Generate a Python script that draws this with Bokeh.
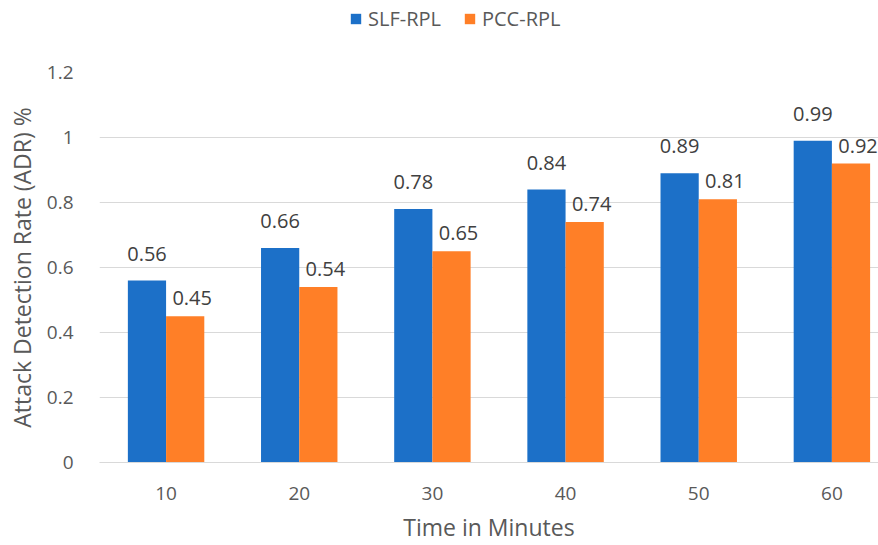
from bokeh.plotting import figure
from bokeh.layouts import column
from bokeh.models import ColumnDataSource, FixedTicker, Legend, LegendItem, Range1d
from bokeh.embed import file_html
from bokeh.resources import INLINE
from bokeh.core.properties import value

categories = ["10", "20", "30", "40", "50", "60"]
slf_rpl = [0.56, 0.66, 0.78, 0.84, 0.89, 0.99]
pcc_rpl = [0.45, 0.54, 0.65, 0.74, 0.81, 0.92]
y_ticks = [0, 0.2, 0.4, 0.6, 0.8, 1.0, 1.2]
y_tick_labels = ["0", "0.2", "0.4", "0.6", "0.8", "1", "1.2"]
series_names = ["SLF-RPL", "PCC-RPL"]

FONT = "Open Sans"
BLUE = "#1C70C8"
ORANGE = "#FF7F27"
GRAY = "#595959"

xs = list(range(1, len(categories) + 1))
bw = 0.287
src_a = ColumnDataSource(dict(x=[v - bw / 2 for v in xs], y=slf_rpl,
                              lbl=[f"{v:g}" for v in slf_rpl]))
src_b = ColumnDataSource(dict(x=[v + bw / 2 for v in xs], y=pcc_rpl,
                              lbl=[f"{v:g}" for v in pcc_rpl]))

# ---- legend strip (top) ----
LEG_H = 40
lf = figure(width=878, height=LEG_H, output_backend="svg", toolbar_location=None,
            x_range=Range1d(100, 101), y_range=Range1d(100, 101),
            min_border_left=0, min_border_right=0, min_border_top=0,
            min_border_bottom=0)
lf.axis.visible = False
lf.grid.visible = False
lf.outline_line_color = None
la = lf.vbar(x="x", top="y", width=bw, source=src_a, fill_color=BLUE, line_color=None)
lb = lf.vbar(x="x", top="y", width=bw, source=src_b, fill_color=ORANGE, line_color=None)
legend = Legend(items=[LegendItem(label=series_names[0], renderers=[la]),
                       LegendItem(label=series_names[1], renderers=[lb])],
                orientation="horizontal", location=(250, 8),
                label_text_font=FONT, label_text_font_size="20px",
                label_text_color=GRAY, glyph_width=13, glyph_height=13,
                spacing=22, label_standoff=6, border_line_color=None,
                background_fill_alpha=0, padding=4, margin=0)
lf.add_layout(legend, "center")

# ---- main chart ----
p = figure(width=878, height=545 - LEG_H, output_backend="svg", toolbar_location=None,
           x_range=Range1d(0.5, 6.35), y_range=Range1d(0, 1.2),
           min_border_left=99, min_border_right=0, min_border_top=72 - LEG_H,
           min_border_bottom=83)
p.outline_line_color = None
p.background_fill_color = "white"

p.vbar(x="x", top="y", width=bw, source=src_a, fill_color=BLUE, line_color=None)
p.vbar(x="x", top="y", width=bw, source=src_b, fill_color=ORANGE, line_color=None)

p.text(x="x", y="y", text="lbl", source=src_a, text_align="center",
       text_baseline="middle", y_offset=-27, text_font=value(FONT),
       text_font_size="20px", text_color="#404040")
p.text(x="x", y="y", text="lbl", source=src_b, text_align="center",
       text_baseline="middle", y_offset=-18, x_offset=7, text_font=value(FONT),
       text_font_size="20px", text_color="#404040")

p.xaxis.ticker = FixedTicker(ticks=xs)
p.xaxis.major_label_overrides = {x: c for x, c in zip(xs, categories)}
p.yaxis.ticker = FixedTicker(ticks=y_ticks)
p.yaxis.major_label_overrides = {t: l for t, l in zip(y_ticks, y_tick_labels)}

p.xgrid.grid_line_color = None
p.ygrid.grid_line_color = "#D9D9D9"
p.ygrid.grid_line_width = 1

for ax in (p.xaxis, p.yaxis):
    ax.major_tick_line_color = None
    ax.minor_tick_line_color = None
    ax.major_label_text_font = FONT
    ax.major_label_text_font_size = "19px"
    ax.major_label_text_color = GRAY
    ax.axis_label_text_font = FONT
    ax.axis_label_text_font_size = "23px"
    ax.axis_label_text_color = GRAY
    ax.axis_label_text_font_style = "normal"

p.xaxis.axis_line_color = "#D9D9D9"
p.yaxis.axis_line_color = None
p.xaxis.axis_label = "Time in Minutes"
p.yaxis.axis_label = "Attack Detection Rate (ADR) %"
p.xaxis.major_label_standoff = 18
p.yaxis.major_label_standoff = 20
p.xaxis.axis_label_standoff = 8
p.yaxis.axis_label_standoff = 6

layout = column(lf, p, spacing=0)
open("out.html", "w").write(file_html(layout, INLINE))
